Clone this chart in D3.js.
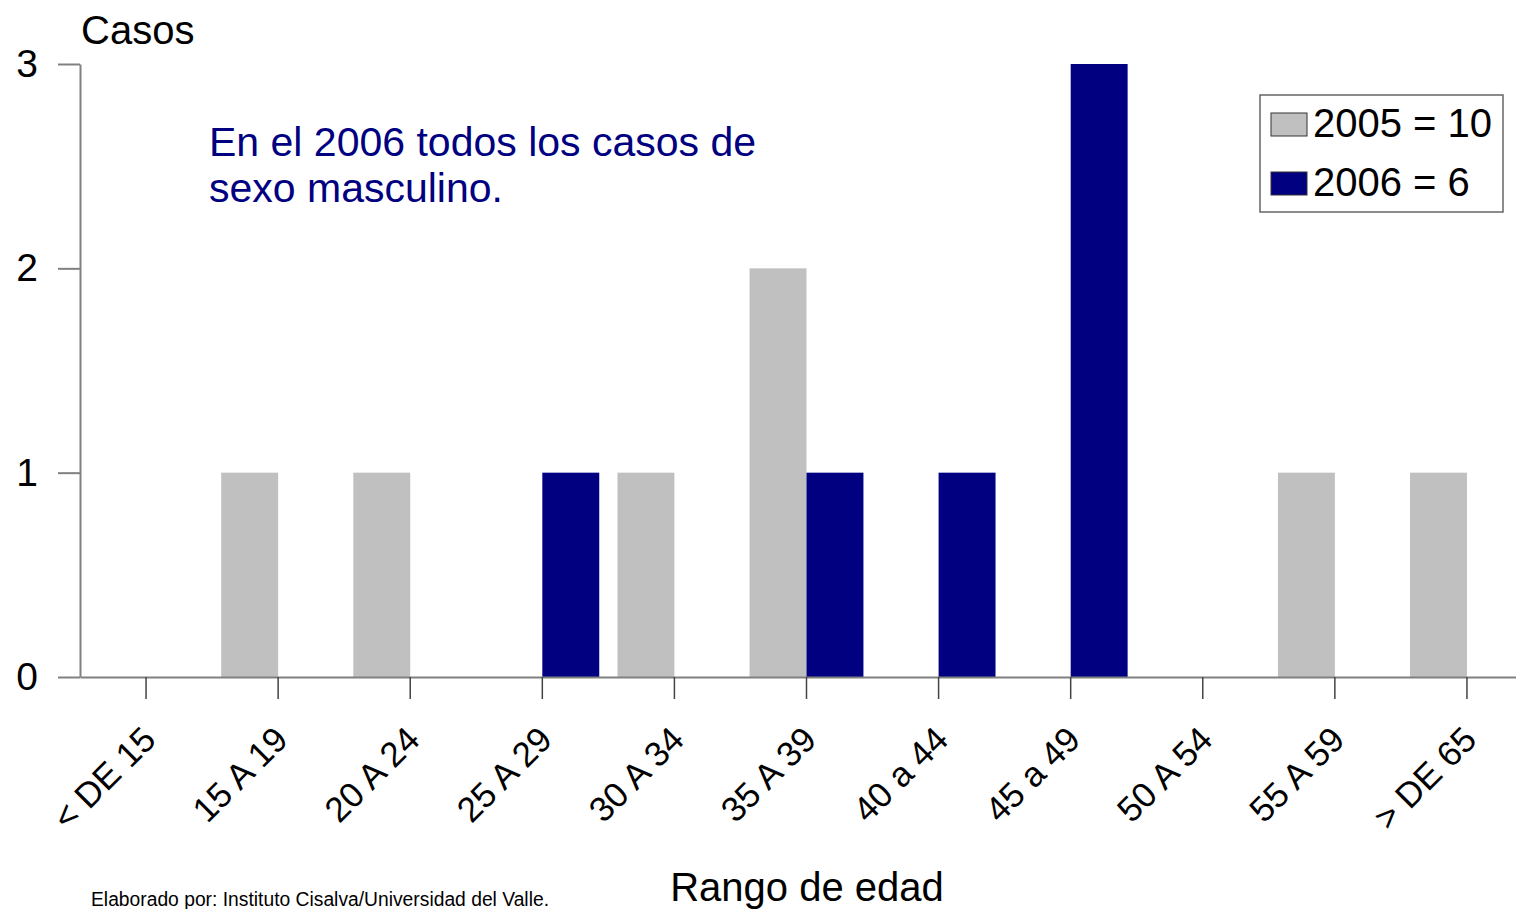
<!DOCTYPE html>
<html>
<head>
<meta charset="utf-8">
<script src="https://cdn.jsdelivr.net/npm/d3@7"></script>
<style>
	body { margin: 0; background: #fff; }
	svg { display: block; font-family: "Liberation Sans", Arial, sans-serif; }
</style>
</head>
<body>
<svg id="chart"></svg>
<script>
// chart data
var categories = ["< DE 15", "15 A 19", "20 A 24", "25 A 29", "30 A 34", "35 A 39",
	"40 a 44", "45 a 49", "50 A 54", "55 A 59", "> DE 65"];
var series = ["2005", "2006"];
var legendLabels = ["2005 = 10", "2006 = 6"];
var values2005 = [0, 1, 1, 0, 1, 2, 0, 0, 0, 1, 1];
var values2006 = [0, 0, 0, 1, 0, 1, 1, 3, 0, 0, 0];
var yTicks = [0, 1, 2, 3];

draw_bars("chart");

function draw_bars(areaID) {

	var totalWidth = 1516,
		totalHeight = 909;
	var margin = {top: 64, left: 80, bottom: 232},
		plotRight = 1533,   // plot area runs past the picture edge
		height = totalHeight - margin.top - margin.bottom;

	var colors = {"2005": "#c0c0c0", "2006": "#000080"};

	var data = categories.map(function(c, i) {
		return {cat: c, vals: [
			{key: "2005", value: values2005[i]},
			{key: "2006", value: values2006[i]}
		]};
	});

	var svg = d3.select("#" + areaID)
		.attr("width", totalWidth)
		.attr("height", totalHeight);

	var x = d3.scaleBand()
		.domain(categories)
		.range([margin.left, plotRight]);

	var xSub = d3.scaleBand()
		.domain(series)
		.range([0, x.bandwidth()])
		.paddingOuter(0.16);

	var y = d3.scaleLinear()
		.domain([0, 3])
		.range([margin.top + height, margin.top]);

	// bars
	var groups = svg.selectAll(".grp")
		.data(data)
	  .enter()
		.append("g")
		.attr("class", "grp")
		.attr("transform", function(d) { return "translate(" + x(d.cat) + ",0)"; });

	groups.selectAll("rect")
		.data(function(d) { return d.vals.filter(function(v) { return v.value > 0; }); })
	  .enter()
		.append("rect")
		.attr("x", function(d) { return xSub(d.key); })
		.attr("width", xSub.bandwidth())
		.attr("y", function(d) { return y(d.value); })
		.attr("height", function(d) { return y(0) - y(d.value); })
		.attr("fill", function(d) { return colors[d.key]; });

	// y axis
	var yAxis = svg.append("g")
		.attr("transform", "translate(" + margin.left + ",0)")
		.call(d3.axisLeft(y).tickValues(yTicks).tickFormat(d3.format("d"))
			.tickSize(22).tickSizeOuter(0).tickPadding(20));
	yAxis.select(".domain").attr("stroke", "#808080").attr("stroke-width", 2);
	yAxis.selectAll(".tick line").attr("stroke", "#808080").attr("stroke-width", 2);
	yAxis.selectAll(".tick text")
		.attr("font-size", 39)
		.attr("fill", "#000")
		.attr("font-family", "Liberation Sans, Arial, sans-serif");

	// x axis
	var xAxis = svg.append("g")
		.attr("transform", "translate(0," + y(0) + ")")
		.call(d3.axisBottom(x).tickSize(22).tickSizeOuter(0).tickFormat(""));
	xAxis.select(".domain").attr("stroke", "#808080").attr("stroke-width", 2);
	xAxis.selectAll(".tick line").attr("stroke", "#444").attr("stroke-width", 1.5);

	svg.append("g").selectAll("text")
		.data(categories)
	  .enter()
		.append("text")
		.attr("transform", function(d) {
			return "translate(" + (x(d) + x.bandwidth() / 2 + 3) + "," + (y(0) + 56) + ") rotate(-45)";
		})
		.attr("text-anchor", "end")
		.attr("font-size", 35)
		.attr("dy", "0.35em")
		.text(function(d) { return d; });

	// legend
	var legend = svg.append("g").attr("transform", "translate(1260,95)");
	legend.append("rect")
		.attr("width", 243).attr("height", 117)
		.attr("fill", "#fff").attr("stroke", "#666").attr("stroke-width", 1.5);
	var item = legend.selectAll(".legend")
		.data(series)
	  .enter()
		.append("g")
		.attr("class", "legend")
		.attr("transform", function(d, i) { return "translate(0," + (i * 59) + ")"; });
	item.append("rect")
		.attr("x", 11).attr("y", 18)
		.attr("width", 36).attr("height", 23)
		.attr("fill", function(d) { return colors[d]; })
		.attr("stroke", "#333").attr("stroke-width", 1);
	item.append("text")
		.attr("x", 53).attr("y", 42)
		.attr("font-size", 40)
		.text(function(d, i) { return legendLabels[i]; });

	// titles
	svg.append("text")
		.attr("x", 81).attr("y", 44)
		.attr("font-size", 40)
		.text("Casos");

	var note = svg.append("text")
		.attr("fill", "#000080")
		.attr("font-size", 41);
	note.append("tspan").attr("x", 209).attr("y", 156).text("En el 2006 todos los casos de");
	note.append("tspan").attr("x", 209).attr("y", 202).text("sexo masculino.");

	svg.append("text")
		.attr("x", 807).attr("y", 901)
		.attr("text-anchor", "middle")
		.attr("font-size", 40)
		.text("Rango de edad");

	svg.append("text")
		.attr("x", 91).attr("y", 906)
		.attr("font-size", 20)
		.attr("font-family", "Liberation Sans Narrow, Arial Narrow, Liberation Sans, sans-serif")
		.attr("textLength", 458)
		.attr("lengthAdjust", "spacingAndGlyphs")
		.text("Elaborado por: Instituto Cisalva/Universidad del Valle.");
}
</script>
</body>
</html>
